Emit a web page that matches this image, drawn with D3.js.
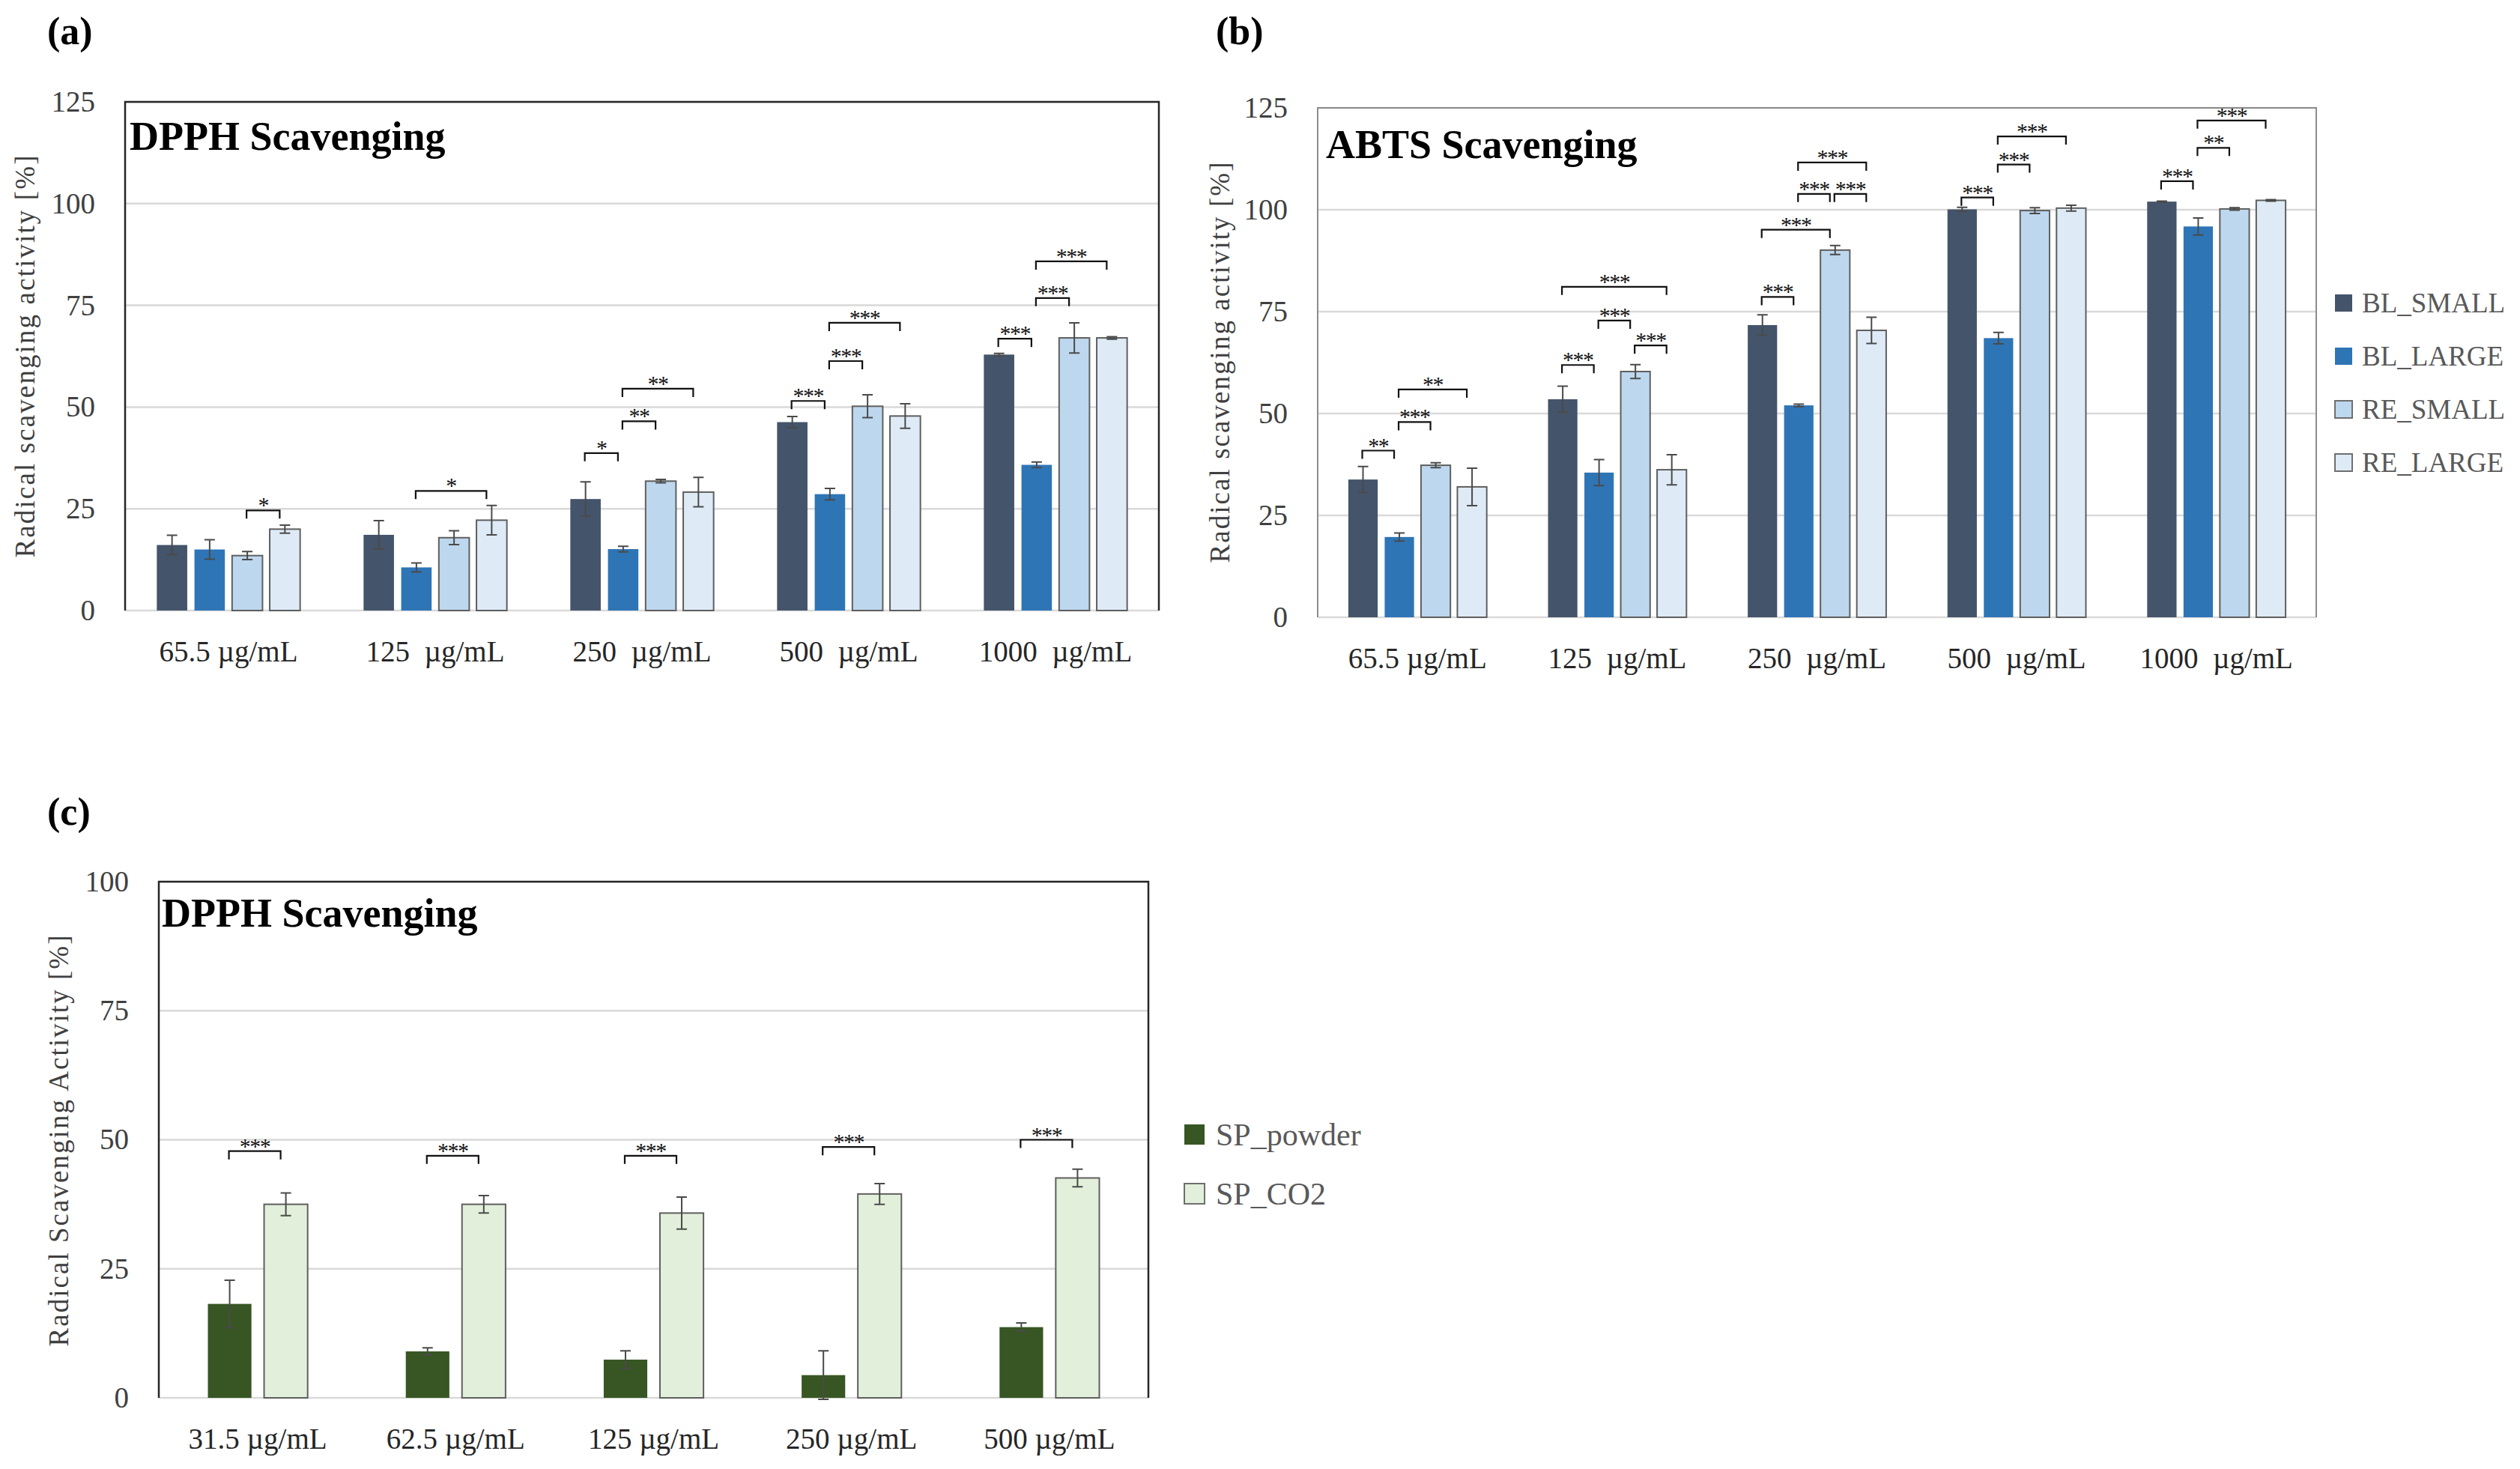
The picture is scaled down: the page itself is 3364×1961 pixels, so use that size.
<!DOCTYPE html>
<html>
<head>
<meta charset="utf-8">
<script src="https://cdnjs.cloudflare.com/ajax/libs/d3/7.8.5/d3.min.js"></script>
<style>
body { margin: 0; background: #fff; overflow: hidden; }
svg { display: block; }
text { font-family: "Palatino Linotype", "Book Antiqua", Palatino, "Liberation Serif", serif; }
</style>
</head>
<body>
<svg id="figure"></svg>
<script>
//Categories and series
var concLabelsAB = ["65.5 µg/mL", "125  µg/mL", "250  µg/mL", "500  µg/mL", "1000  µg/mL"];
var concLabelsC = ["31.5 µg/mL", "62.5 µg/mL", "125 µg/mL", "250 µg/mL", "500 µg/mL"];
var seriesAB = ["BL_SMALL", "BL_LARGE", "RE_SMALL", "RE_LARGE"];
var seriesC = ["SP_powder", "SP_CO2"];
var yTicksAB = [0, 25, 50, 75, 100, 125];
var yTicksC = [0, 25, 50, 75, 100];

//(a) DPPH - one row per concentration, one value per series
var dpphMean = [
  [16.1, 15.0, 13.5, 20.0],
  [18.6, 10.6, 17.9, 22.2],
  [27.4, 15.1, 31.8, 29.1],
  [46.3, 28.6, 50.2, 47.8],
  [62.9, 35.8, 67.0, 67.0]
];
var dpphErr = [
  [2.4, 2.4, 1.0, 1.0],
  [3.5, 1.1, 1.7, 3.6],
  [4.2, 0.7, 0.4, 3.6],
  [1.4, 1.4, 2.8, 3.0],
  [0.3, 0.7, 3.7, 0.3]
];
//[category, from series, to series, height, label]
var dpphSig = [
  [0, 2, 3, 24.6, "*"],
  [1, 1, 3, 29.4, "*"],
  [2, 0, 1, 38.7, "*"], [2, 1, 2, 46.5, "**"], [2, 1, 3, 54.5, "**"],
  [3, 0, 1, 51.5, "***"], [3, 1, 2, 61.3, "***"], [3, 1, 3, 70.7, "***"],
  [4, 0, 1, 66.8, "***"], [4, 1, 2, 76.8, "***"], [4, 1, 3, 85.8, "***"]
];

//(b) ABTS
var abtsMean = [
  [33.8, 19.7, 37.3, 32.0],
  [53.5, 35.5, 60.3, 36.2],
  [71.7, 52.0, 90.1, 70.4],
  [100.1, 68.5, 99.8, 100.4],
  [102.0, 95.9, 100.2, 102.3]
];
var abtsErr = [
  [3.2, 1.0, 0.6, 4.6],
  [3.2, 3.2, 1.7, 3.7],
  [2.5, 0.3, 1.1, 3.2],
  [0.5, 1.4, 0.7, 0.7],
  [0.1, 2.1, 0.3, 0.2]
];
var abtsSig = [
  [0, 0, 1, 40.9, "**"], [0, 1, 2, 47.9, "***"], [0, 1, 3, 55.9, "**"],
  [1, 0, 1, 61.9, "***"], [1, 2, 3, 66.7, "***"], [1, 1, 2, 72.8, "***"], [1, 0, 3, 81.1, "***"],
  [2, 0, 1, 78.6, "***"], [2, 0, 2, 95.1, "***"], [2, 1, 2, 103.9, "***"], [2, 2, 3, 103.9, "***"], [2, 1, 3, 111.6, "***"],
  [3, 0, 1, 103.0, "***"], [3, 1, 2, 111.1, "***"], [3, 1, 3, 118.0, "***"],
  [4, 0, 1, 107.0, "***"], [4, 1, 2, 115.2, "**"], [4, 1, 3, 121.9, "***"]
];

//(c) SP DPPH
var spMean = [
  [18.2, 37.5],
  [9.0, 37.5],
  [7.4, 35.8],
  [4.4, 39.5],
  [13.7, 42.6]
];
var spErr = [
  [4.6, 2.2],
  [0.7, 1.7],
  [1.7, 3.1],
  [4.7, 2.0],
  [0.8, 1.7]
];
var spSig = [
  [0, 0, 1, 47.8, "***"],
  [1, 0, 1, 46.9, "***"],
  [2, 0, 1, 46.9, "***"],
  [3, 0, 1, 48.6, "***"],
  [4, 0, 1, 50.0, "***"]
];

//Colours
var colorsAB = ["#44546a", "#2e75b6", "#bdd7ee", "#deebf7"];
var colorsC = ["#375623", "#e2efda"];
var outlinedAB = [false, false, true, true];
var outlinedC = [false, true];

//Figure settings
var screenSettings = { width: 3364, height: 1961 };

var svg = d3.select("#figure")
  .attr("width", screenSettings.width)
  .attr("height", screenSettings.height);

var drawChart = function(cfg)
{
  var w = cfg.right - cfg.left;
  var h = cfg.bottom - cfg.top;

  var g = svg.append("g")
    .attr("transform", "translate(" + cfg.left + "," + cfg.top + ")");

  var x0 = d3.scaleBand()
    .domain(d3.range(cfg.categories.length))
    .range([0, w])
    .padding(0);

  var x1 = d3.scaleBand()
    .domain(d3.range(cfg.series.length))
    .range([0, x0.bandwidth()])
    .paddingInner(cfg.padInner)
    .paddingOuter(cfg.padOuter);

  var y = d3.scaleLinear()
    .domain([0, cfg.yMax])
    .range([h, 0]);

  //gridlines (the 0 line is the grey category axis)
  g.append("g")
    .selectAll("line")
    .data(cfg.yTicks)
    .join("line")
    .attr("x1", 0)
    .attr("x2", w)
    .attr("y1", function(d){ return y(d); })
    .attr("y2", function(d){ return y(d); })
    .attr("stroke", "#d9d9d9")
    .attr("stroke-width", 2.5);

  //y axis labels
  var yAxis = d3.axisLeft(y)
    .tickValues(cfg.yTicks)
    .tickSize(0)
    .tickPadding(40);

  var yAxisG = g.append("g").call(yAxis);
  yAxisG.select(".domain").remove();
  yAxisG.selectAll("text")
    .attr("font-size", 39)
    .attr("fill", "#404040")
    .style("font-family", null);

  //category labels
  g.append("g")
    .selectAll("text")
    .data(cfg.categories)
    .join("text")
    .attr("x", function(d, i){ return x0(i) + x0.bandwidth() / 2; })
    .attr("y", h + 68)
    .attr("text-anchor", "middle")
    .attr("font-size", 39)
    .attr("fill", "#262626")
    .attr("xml:space", "preserve")
    .style("white-space", "pre")
    .text(function(d){ return d; });

  //bars
  var rows = [];
  cfg.mean.forEach(function(row, ci){
    row.forEach(function(v, si){
      rows.push({ cat: ci, s: si, mean: v, err: cfg.err[ci][si] });
    });
  });

  var bars = g.append("g");
  bars.selectAll("rect")
    .data(rows)
    .join("rect")
    .attr("x", function(d){ return x0(d.cat) + x1(d.s); })
    .attr("y", function(d){ return y(d.mean); })
    .attr("width", x1.bandwidth())
    .attr("height", function(d){ return y(0) - y(d.mean); })
    .attr("fill", function(d){ return cfg.colors[d.s]; })
    .attr("stroke", function(d){ return cfg.outlined[d.s] ? "#5f5f5f" : "none"; })
    .attr("stroke-width", 2);

  //error bars
  var cap = 7;
  var errG = g.append("g")
    .attr("stroke", "#4a4a4a")
    .attr("stroke-width", 2)
    .attr("fill", "none");

  errG.selectAll("path")
    .data(rows)
    .join("path")
    .attr("d", function(d){
      var cx = x0(d.cat) + x1(d.s) + x1.bandwidth() / 2;
      var yt = y(d.mean + d.err);
      var yb = y(d.mean - d.err);
      return "M" + (cx - cap) + "," + yt + "H" + (cx + cap) +
             "M" + cx + "," + yt + "V" + yb +
             "M" + (cx - cap) + "," + yb + "H" + (cx + cap);
    });

  //significance brackets
  var sigG = g.append("g");
  var barCenter = function(ci, si){ return x0(ci) + x1(si) + x1.bandwidth() / 2; };
  var bracketLeft = function(d){ return barCenter(d[0], d[1]) - 1; };
  var bracketRight = function(d){ return barCenter(d[0], d[2]) - 7; };

  sigG.selectAll("path")
    .data(cfg.sig)
    .join("path")
    .attr("d", function(d){
      var yy = y(d[3]);
      return "M" + bracketLeft(d) + "," + (yy + 11) + "V" + yy + "H" + bracketRight(d) + "V" + (yy + 11);
    })
    .attr("fill", "none")
    .attr("stroke", "#111")
    .attr("stroke-width", 2.2);

  sigG.selectAll("text")
    .data(cfg.sig)
    .join("text")
    .attr("x", function(d){ return (bracketLeft(d) + bracketRight(d)) / 2; })
    .attr("y", function(d){ return y(d[3]) + 3; })
    .attr("text-anchor", "middle")
    .attr("font-size", 30)
    .attr("letter-spacing", -1.5)
    .attr("fill", "#111")
    .text(function(d){ return d[4]; });

  //plot frame: left, top, right
  g.append("path")
    .attr("d", "M0," + h + "V0H" + w + "V" + h)
    .attr("fill", "none")
    .attr("stroke", cfg.borderColor)
    .attr("stroke-width", cfg.borderWidth);

  //chart title inside the frame
  svg.append("text")
    .attr("x", cfg.titleX)
    .attr("y", cfg.titleY)
    .attr("font-size", 54)
    .attr("font-weight", "bold")
    .attr("fill", "#000")
    .text(cfg.title);

  //y axis title
  svg.append("text")
    .attr("transform", "translate(" + cfg.yTitleX + "," + cfg.yTitleY + ") rotate(-90)")
    .attr("text-anchor", "middle")
    .attr("font-size", 37)
    .attr("fill", "#404040")
    .attr("textLength", cfg.yTitleLen)
    .attr("lengthAdjust", "spacing")
    .text(cfg.yTitle);

  //panel letter
  svg.append("text")
    .attr("x", cfg.labelX)
    .attr("y", cfg.labelY)
    .attr("font-size", 52)
    .attr("font-weight", "bold")
    .attr("fill", "#000")
    .text(cfg.panelLabel);

  //legend
  if (cfg.legend)
  {
    var lg = svg.append("g")
      .attr("transform", "translate(" + cfg.legend.x + "," + cfg.legend.y + ")");

    var items = lg.selectAll("g")
      .data(cfg.series)
      .join("g")
      .attr("transform", function(d, i){ return "translate(0," + (i * cfg.legend.step) + ")"; });

    items.append("rect")
      .attr("x", 0)
      .attr("y", -cfg.legend.box - 1)
      .attr("width", cfg.legend.box)
      .attr("height", cfg.legend.box)
      .attr("fill", function(d, i){ return cfg.colors[i]; })
      .attr("stroke", function(d, i){ return cfg.outlined[i] ? "#6f6f6f" : "none"; })
      .attr("stroke-width", 2);

    items.append("text")
      .attr("x", cfg.legend.box + cfg.legend.gap)
      .attr("y", 0)
      .attr("font-size", cfg.legend.fontSize)
      .attr("fill", "#595959")
      .text(function(d){ return d; });
  }
};

//Main process
drawChart({
  left: 167, top: 136, right: 1547, bottom: 815,
  categories: concLabelsAB, series: seriesAB, colors: colorsAB, outlined: outlinedAB,
  mean: dpphMean, err: dpphErr, sig: dpphSig,
  yMax: 125, yTicks: yTicksAB,
  padInner: 0.192, padOuter: 0.843,
  borderColor: "#262626", borderWidth: 2.5,
  title: "DPPH Scavenging", titleX: 173, titleY: 200,
  yTitle: "Radical scavenging activity [%]", yTitleX: 46, yTitleY: 476, yTitleLen: 537,
  panelLabel: "(a)", labelX: 63, labelY: 59
});

drawChart({
  left: 1759, top: 144, right: 3092, bottom: 824,
  categories: concLabelsAB, series: seriesAB, colors: colorsAB, outlined: outlinedAB,
  mean: abtsMean, err: abtsErr, sig: abtsSig,
  yMax: 125, yTicks: yTicksAB,
  padInner: 0.192, padOuter: 0.843,
  borderColor: "#8c8c8c", borderWidth: 2,
  title: "ABTS Scavenging", titleX: 1770, titleY: 211,
  yTitle: "Radical scavenging activity [%]", yTitleX: 1641, yTitleY: 484, yTitleLen: 535,
  panelLabel: "(b)", labelX: 1623, labelY: 59,
  legend: { x: 3117, y: 417, step: 71, box: 23, gap: 13, fontSize: 37 }
});

drawChart({
  left: 212, top: 1177, right: 1533, bottom: 1866,
  categories: concLabelsC, series: seriesC, colors: colorsC, outlined: outlinedC,
  mean: spMean, err: spErr, sig: spSig,
  yMax: 100, yTicks: yTicksC,
  padInner: 0.225, padOuter: 0.873,
  borderColor: "#262626", borderWidth: 2.5,
  title: "DPPH Scavenging", titleX: 216, titleY: 1237,
  yTitle: "Radical Scavenging Activity [%]", yTitleX: 91, yTitleY: 1523, yTitleLen: 549,
  panelLabel: "(c)", labelX: 63, labelY: 1101,
  legend: { x: 1581, y: 1529, step: 79, box: 27, gap: 15, fontSize: 42 }
});
</script>
</body>
</html>
